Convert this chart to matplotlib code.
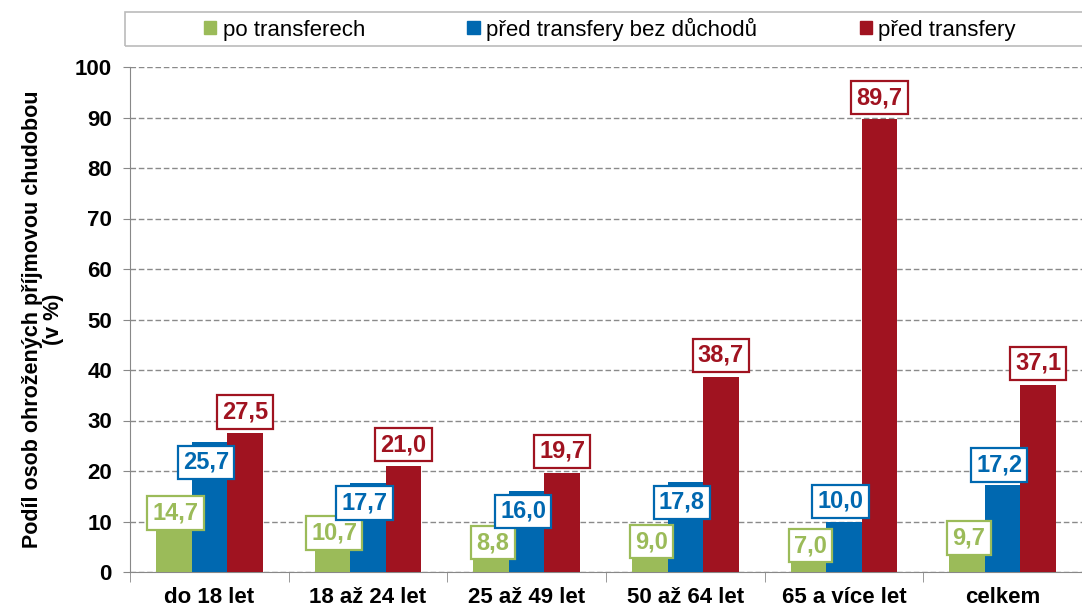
import numpy as np
import matplotlib.pyplot as plt
from matplotlib.patches import Rectangle, Patch

plt.rcParams['font.family'] = ['Liberation Sans', 'DejaVu Sans']

# Data
categories = ["do 18 let", "18 až 24 let", "25 až 49 let", "50 až 64 let", "65 a více let", "celkem"]
po_transferech = [14.7, 10.7, 8.8, 9.0, 7.0, 9.7]
pred_bez_duchodu = [25.7, 17.7, 16.0, 17.8, 10.0, 17.2]
pred_transfery = [27.5, 21.0, 19.7, 38.7, 89.7, 37.1]
series_names = ["po transferech", "před transfery bez důchodů", "před transfery"]

colors = ['#9bbb59', '#0068b0', '#a01320']

# label placement (layout only): offsets from bar top in data units
green_off = -3.0
blue_off = [-4, -4, -4, -4, 4, 4]
red_off = 4.2

fig = plt.figure(figsize=(10.82, 6.08), dpi=100)
ax = fig.add_axes([130/1082, 1-572/608, 952/1082, 505/608])

x = np.arange(len(categories))
w = 0.224
series = [po_transferech, pred_bez_duchodu, pred_transfery]
for i, (vals, c) in enumerate(zip(series, colors)):
    ax.bar(x + (i-1)*w, vals, width=w, color=c, zorder=3)

def fmt(v):
    return f"{v:.1f}".replace('.', ',')

def put(xp, yp, v, c):
    ax.text(xp, yp, fmt(v), ha='center', va='center', color=c, fontsize=17,
            fontweight='bold', zorder=5,
            bbox=dict(boxstyle='square,pad=0.22', fc='white', ec=c, lw=1.6))

for k in range(len(categories)):
    g = po_transferech[k]
    put(x[k] - w*0.95, max(g + green_off, 5.2), g, colors[0])
    b = pred_bez_duchodu[k]
    put(x[k] - w*0.1, b + blue_off[k], b, colors[1])
    r = pred_transfery[k]
    put(x[k] + w*1.0, r + red_off, r, colors[2])

ax.set_xlim(-0.5, len(categories)-0.5)
ax.set_ylim(0, 100)
ax.set_yticks(np.arange(0, 101, 10))
ax.tick_params(axis='y', labelsize=16, length=5, color='#888888', pad=8)
for t in ax.get_yticklabels():
    t.set_fontweight('bold')

ax.set_xticks(x)
ax.set_xticklabels(categories, fontsize=16, fontweight='bold')
ax.tick_params(axis='x', length=0, pad=11)
ax.set_xticks(np.arange(-0.5, len(categories)), minor=True)
ax.tick_params(axis='x', which='minor', length=7, color='#888888')

ax.yaxis.grid(True, linestyle=(0, (4, 2)), color='#8a8a8a', lw=1.0, zorder=0)
ax.set_axisbelow(True)
for s in ['top', 'right']:
    ax.spines[s].set_visible(False)
ax.spines['left'].set_color('#888888')
ax.spines['bottom'].set_color('#888888')

ax.set_ylabel("Podíl osob ohrožených příjmovou chudobou\n(v %)", fontsize=15.5,
              fontweight='bold', labelpad=8, linespacing=1.0)

# legend box
fig.patches.append(Rectangle((125/1082, 1-46/608), 960/1082, 34/608,
                             transform=fig.transFigure, fill=False,
                             ec='#bbbbbb', lw=1.2))
handles = [Patch(color=c, label=n) for c, n in zip(colors, series_names)]
fig.legend(handles=handles, loc='center', bbox_to_anchor=(610/1082, 1-29/608),
           ncol=3, frameon=False, fontsize=16, handlelength=0.55, handleheight=0.55,
           handletextpad=0.3, columnspacing=4.6)

fig.savefig("out.png", dpi=100)
